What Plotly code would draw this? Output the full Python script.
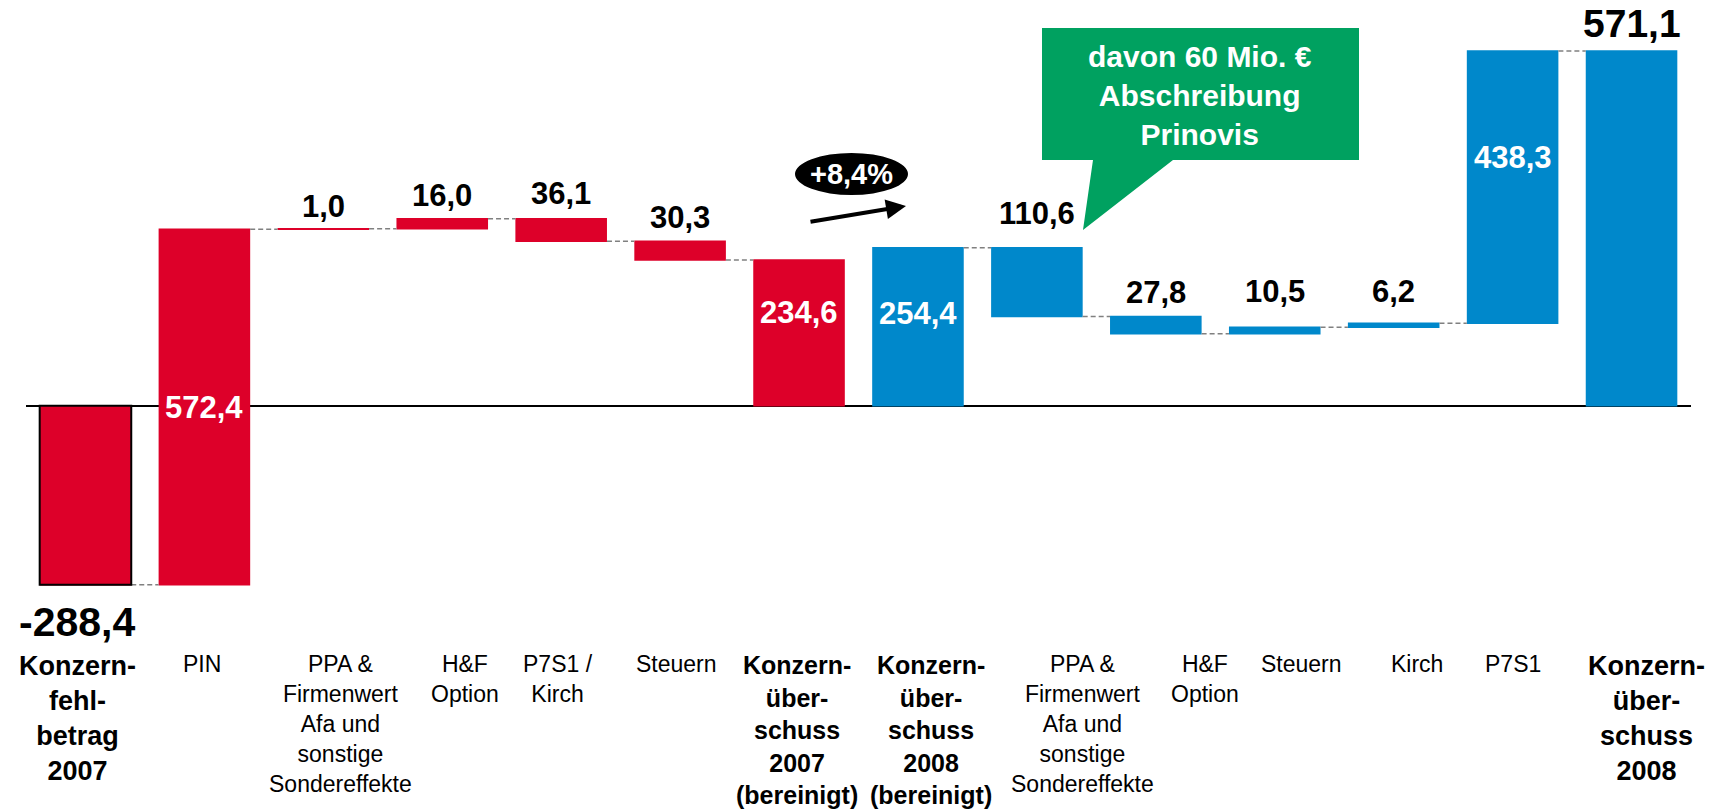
import plotly.graph_objects as go

# ---------------- data ----------------
categories = [
    "Konzern-<br>fehl-<br>betrag<br>2007",
    "PIN",
    "PPA &<br>Firmenwert<br>Afa und<br>sonstige<br>Sondereffekte",
    "H&F<br>Option",
    "P7S1 /<br>Kirch",
    "Steuern",
    "Konzern-<br>über-<br>schuss<br>2007<br>(bereinigt)",
    "Konzern-<br>über-<br>schuss<br>2008<br>(bereinigt)",
    "PPA &<br>Firmenwert<br>Afa und<br>sonstige<br>Sondereffekte",
    "H&F<br>Option",
    "Steuern",
    "Kirch",
    "P7S1",
    "Konzern-<br>über-<br>schuss<br>2008",
]
category_is_total = [True, False, False, False, False, False, True,
                     True, False, False, False, False, False, True]

red_values = [-288.4, 572.4, 1.0, 16.0, -36.1, -30.3, 234.6]
red_measures = ["relative"] * 6 + ["total"]

blue_values = [254.4, -110.6, -27.8, 10.5, 6.2, 438.3, 571.1]
blue_measures = ["absolute"] + ["relative"] * 5 + ["total"]

callout_text = "davon 60 Mio. €<br>Abschreibung<br>Prinovis"
growth_text = "+8,4%"

# ---------------- style ----------------
RED = "#DD0029"
BLUE = "#0088CB"
GREEN = "#00A160"
FONT = "Arial, Liberation Sans, sans-serif"
W, H = 1722, 810
L, R, T, B = 26, 31, 20, 170
PW, PH = W - L - R, H - T - B
BAR_W = 0.77

label_pos = ["below", "inside", "above", "above", "above", "above", "inside",
             "inside", "above", "above", "above", "above", "inside", "above"]
label_size = [41, 31, 31, 31, 31, 31, 31, 31, 31, 31, 31, 31, 31, 39]
label_yshift = [-12, 0, 3, 4, 6, 4, 20, 13, 15, 4, 16, 12, 30, 4]
cat_xshift = [-8, -2, 17, 23, -3, -4, -2, 13, 46, 49, 27, 23, 0, 15]
cat_size = [27, 23, 23, 23, 23, 23, 25, 25, 23, 23, 23, 23, 23, 27]


def px_x(px):
    return (px - L) / PW


def px_y(py):
    return (T + PH - py) / PH


def spans(values, measures):
    level = 0.0
    out = []
    for v, m in zip(values, measures):
        if m == "relative":
            s, e = level, level + v
            level = e
        elif m == "absolute":
            s, e = 0.0, v
            level = v
        else:
            s, e = 0.0, level
        out.append((s, e))
    return out


def fmt(v, signed=False):
    return f"{(v if signed else abs(v)):.1f}".replace(".", ",")


red_x = list(range(len(red_values)))
blue_x = list(range(len(red_values), len(red_values) + len(blue_values)))

conn = dict(line=dict(color="#808080", width=1.5, dash="5px,3px"), mode="between")

fig = go.Figure()
fig.add_trace(go.Waterfall(
    x=red_x, y=red_values, measure=red_measures, width=BAR_W,
    increasing=dict(marker=dict(color=RED)),
    decreasing=dict(marker=dict(color=RED)),
    totals=dict(marker=dict(color=RED)),
    connector=conn, hoverinfo="skip", showlegend=False,
))
fig.add_trace(go.Waterfall(
    x=blue_x, y=blue_values, measure=blue_measures, width=BAR_W,
    increasing=dict(marker=dict(color=BLUE)),
    decreasing=dict(marker=dict(color=BLUE)),
    totals=dict(marker=dict(color=BLUE)),
    connector=conn, hoverinfo="skip", showlegend=False,
))
# black outline of the starting (loss) bar
fig.add_trace(go.Bar(
    x=[red_x[0]], y=[red_values[0]], width=BAR_W,
    marker=dict(color="rgba(0,0,0,0)", line=dict(color="black", width=2)),
    hoverinfo="skip", showlegend=False,
))

annotations = []
all_spans = spans(red_values, red_measures) + spans(blue_values, blue_measures)
all_values = red_values + blue_values
for i, ((s, e), v) in enumerate(zip(all_spans, all_values)):
    pos = label_pos[i]
    txt = f"<b>{fmt(v, signed=(i == 0))}</b>"
    if pos == "inside":
        annotations.append(dict(
            x=i, y=(s + e) / 2, xref="x", yref="y", text=txt,
            showarrow=False, yshift=label_yshift[i],
            xanchor="center", yanchor="middle",
            font=dict(family=FONT, size=label_size[i], color="white")))
    elif pos == "above":
        annotations.append(dict(
            x=i, y=max(s, e), xref="x", yref="y", text=txt,
            showarrow=False, yanchor="bottom", xanchor="center",
            yshift=label_yshift[i],
            font=dict(family=FONT, size=label_size[i], color="black")))
    else:
        annotations.append(dict(
            x=i, y=min(s, e), xref="x", yref="y", text=txt,
            showarrow=False, yanchor="top", xanchor="center",
            yshift=label_yshift[i], xshift=-8,
            font=dict(family=FONT, size=label_size[i], color="black")))

for i, (c, bold) in enumerate(zip(categories, category_is_total)):
    annotations.append(dict(
        x=i, y=px_y(649), xref="x", yref="paper",
        text=f"<b>{c}</b>" if bold else c, showarrow=False,
        yanchor="top", xanchor="center", align="center", xshift=cat_xshift[i],
        font=dict(family=FONT, size=cat_size[i], color="black")))

# callout text
annotations.append(dict(
    x=px_x(1200), y=px_y(95), xref="paper", yref="paper",
    xanchor="center", yanchor="middle",
    text=f"<b>{callout_text}</b>", showarrow=False, align="center",
    font=dict(family=FONT, size=30, color="white")))
# growth badge text
annotations.append(dict(
    x=px_x(851), y=px_y(174), xref="paper", yref="paper",
    xanchor="center", yanchor="middle",
    text=f"<b>{growth_text}</b>", showarrow=False,
    font=dict(family=FONT, size=29, color="white")))
# growth arrow
annotations.append(dict(
    x=px_x(906), y=px_y(206), xref="paper", yref="paper", text="",
    showarrow=True, arrowhead=2, arrowsize=1, arrowwidth=4, arrowcolor="black",
    ax=-97, ay=16))

bubble = [(1042, 28), (1359, 28), (1359, 160), (1173, 160), (1083, 230),
          (1093, 160), (1042, 160)]
path = "M " + " L ".join(f"{px_x(a):.5f},{px_y(b):.5f}" for a, b in bubble) + " Z"

shapes = [
    dict(type="path", path=path, xref="paper", yref="paper",
         fillcolor=GREEN, line=dict(width=0), layer="above"),
    dict(type="circle", xref="paper", yref="paper",
         x0=px_x(795), x1=px_x(908), y0=px_y(195), y1=px_y(153),
         fillcolor="black", line=dict(width=0), layer="above"),
]

fig.update_layout(
    width=W, height=H,
    margin=dict(l=L, r=R, t=T, b=B),
    paper_bgcolor="white", plot_bgcolor="white",
    waterfallmode="overlay",
    showlegend=False,
    xaxis=dict(range=[-0.5, 13.5], showgrid=False, zeroline=False,
               showticklabels=False, ticks="", showline=False, fixedrange=True),
    yaxis=dict(range=[-377.3, 621.1], showgrid=False, zeroline=True,
               zerolinecolor="black", zerolinewidth=2,
               showticklabels=False, ticks="", showline=False, fixedrange=True),
    annotations=annotations,
    shapes=shapes,
    font=dict(family=FONT),
)

fig.write_html(
    "out.html",
    config={"displayModeBar": False},
    post_script="document.body.style.margin='0';document.body.style.overflow='hidden';",
)
